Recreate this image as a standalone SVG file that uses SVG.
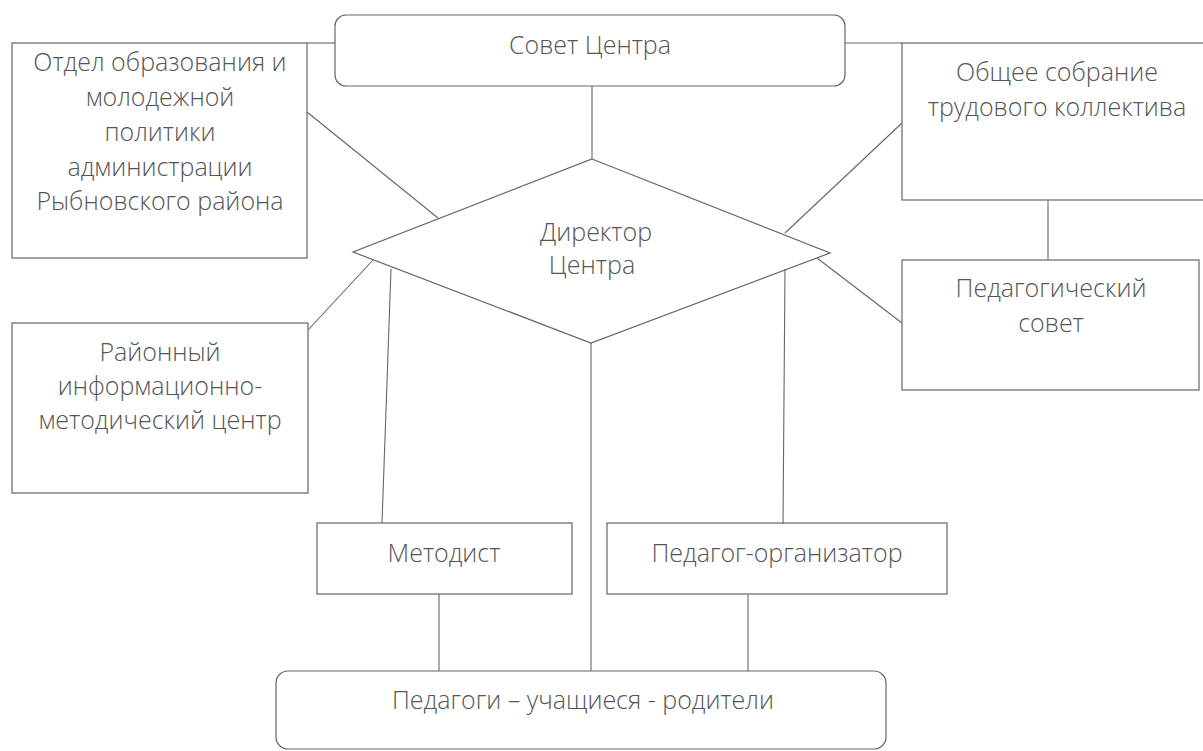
<svg xmlns="http://www.w3.org/2000/svg" width="1203" height="751" viewBox="0 0 1203 751">
<style>
.b{fill:none;stroke:#666;stroke-width:1.2}
.c line{stroke:#666;stroke-width:1.1}
text{font-family:"Open Sans","Liberation Sans",sans-serif;font-weight:300;font-size:25px;fill:#555;text-anchor:middle}
</style>
<rect width="1203" height="751" fill="#fff"/>
<g id="connectors" class="c">
<line x1="307" y1="43" x2="335" y2="43"/>
<line x1="845" y1="43" x2="902" y2="43"/>
<line x1="592" y1="86" x2="592" y2="159"/>
<line x1="307" y1="112" x2="438" y2="218"/>
<line x1="902" y1="123" x2="785" y2="233"/>
<line x1="817" y1="258" x2="902" y2="323"/>
<line x1="373" y1="260" x2="308" y2="330"/>
<line x1="391" y1="269" x2="382" y2="523"/>
<line x1="785" y1="269" x2="783" y2="524"/>
<line x1="591" y1="343" x2="591" y2="671"/>
<line x1="439" y1="594" x2="439" y2="671"/>
<line x1="748" y1="595" x2="748" y2="671"/>
<line x1="1048" y1="200" x2="1048" y2="260"/>
</g>
<g id="sovet">
<rect class="b" x="335" y="15" width="510" height="71" rx="11"/>
<text x="590" y="54">Совет Центра</text>
</g>
<g id="otdel">
<rect class="b" x="12" y="43" width="295" height="215"/>
<text x="160" y="71">Отдел образования и</text>
<text x="160" y="106">молодежной</text>
<text x="160" y="141">политики</text>
<text x="160" y="176">администрации</text>
<text x="160" y="210">Рыбновского района</text>
</g>
<g id="obshchee">
<rect class="b" x="902" y="43" width="320" height="157"/>
<text x="1057" y="81">Общее собрание</text>
<text x="1057" y="116">трудового коллектива</text>
</g>
<g id="pedsovet">
<rect class="b" x="902" y="260" width="297" height="130"/>
<text x="1051" y="297">Педагогический</text>
<text x="1051" y="332">совет</text>
</g>
<g id="direktor">
<polygon class="b" points="592,159 830,253 591,343 353,252"/>
<text x="596" y="241">Директор</text>
<text x="592" y="274">Центра</text>
</g>
<g id="rimc">
<rect class="b" x="12" y="323" width="296" height="170"/>
<text x="160" y="361">Районный</text>
<text x="160" y="395">информационно-</text>
<text x="160" y="429">методический центр</text>
</g>
<g id="metodist">
<rect class="b" x="317" y="523" width="255" height="71"/>
<text x="444" y="562">Методист</text>
</g>
<g id="pedorg">
<rect class="b" x="607" y="523" width="340" height="71"/>
<text x="777" y="562">Педагог-организатор</text>
</g>
<g id="pedagogi">
<rect class="b" x="276" y="671" width="610" height="78" rx="12"/>
<text x="583" y="709">Педагоги – учащиеся - родители</text>
</g>
</svg>
